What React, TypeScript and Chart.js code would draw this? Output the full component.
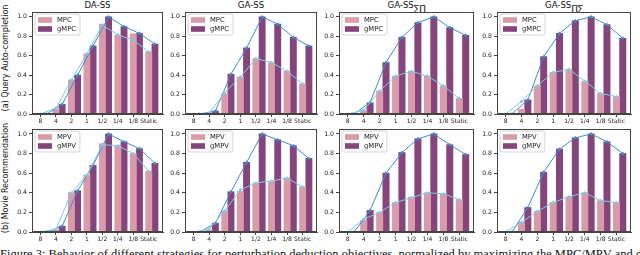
import React, { useEffect, useRef } from "react";
import { Chart, registerables } from "chart.js";

Chart.register(...registerables);

// ---------- data ----------
const CATEGORIES = ["8", "4", "2", "1", "1/2", "1/4", "1/8", "Static"];
const Y_TICKS = [0, 0.2, 0.4, 0.6, 0.8, 1.0];

// (a) Query Auto-completion
const QAC_DA_MPC = [0, 0.05, 0.35, 0.62, 0.925, 0.81, 0.825, 0.64];
const QAC_DA_GMPC = [0, 0.1, 0.4, 0.7, 1.0, 0.9, 0.83, 0.72];
const QAC_DA_MPC_LINE = [0, 0.06, 0.35, 0.62, 0.915, 0.815, 0.76, 0.64];
const QAC_DA_GMPC_LINE = [0, 0.1, 0.4, 0.7, 1.0, 0.9, 0.83, 0.72];

const QAC_GA_MPC = [0, 0.01, 0.205, 0.38, 0.57, 0.53, 0.44, 0.31];
const QAC_GA_GMPC = [0, 0.03, 0.41, 0.68, 1.0, 0.925, 0.79, 0.7];
const QAC_GA_MPC_LINE = [0, 0.01, 0.22, 0.38, 0.57, 0.53, 0.44, 0.31];
const QAC_GA_GMPC_LINE = [0, 0.03, 0.41, 0.68, 1.0, 0.925, 0.79, 0.7];

const QAC_SP_MPC = [0, 0.035, 0.235, 0.39, 0.44, 0.39, 0.29, 0.16];
const QAC_SP_GMPC = [0, 0.115, 0.53, 0.79, 0.94, 1.0, 0.89, 0.81];
const QAC_SP_MPC_LINE = [0, 0.04, 0.235, 0.39, 0.44, 0.39, 0.29, 0.16];
const QAC_SP_GMPC_LINE = [0, 0.12, 0.53, 0.79, 0.94, 1.0, 0.89, 0.81];

const QAC_PS_MPC = [0, 0.05, 0.29, 0.43, 0.455, 0.335, 0.215, 0.18];
const QAC_PS_GMPC = [0, 0.145, 0.59, 0.83, 0.96, 1.0, 0.92, 0.78];
const QAC_PS_MPC_LINE = [0, 0.13, 0.29, 0.43, 0.46, 0.34, 0.21, 0.18];
const QAC_PS_GMPC_LINE = [0, 0.145, 0.59, 0.83, 0.96, 1.0, 0.92, 0.78];

// (b) Movie Recommendation
const MR_DA_MPV = [0, 0.02, 0.4, 0.58, 0.9, 0.885, 0.8, 0.62];
const MR_DA_GMPV = [0, 0.06, 0.42, 0.68, 1.0, 0.92, 0.85, 0.7];
const MR_DA_MPV_LINE = [0, 0.03, 0.4, 0.58, 0.89, 0.88, 0.8, 0.62];
const MR_DA_GMPV_LINE = [0, 0.06, 0.42, 0.68, 1.0, 0.92, 0.85, 0.7];

const MR_GA_MPV = [0, 0.02, 0.215, 0.415, 0.5, 0.52, 0.55, 0.46];
const MR_GA_GMPV = [0, 0.09, 0.41, 0.71, 1.0, 0.94, 0.88, 0.75];
const MR_GA_MPV_LINE = [0, 0.03, 0.215, 0.43, 0.5, 0.52, 0.55, 0.46];
const MR_GA_GMPV_LINE = [0, 0.09, 0.41, 0.71, 1.0, 0.94, 0.88, 0.75];

const MR_SP_MPV = [0, 0.12, 0.2, 0.3, 0.355, 0.4, 0.39, 0.33];
const MR_SP_GMPV = [0, 0.22, 0.6, 0.81, 0.95, 1.0, 0.89, 0.79];
const MR_SP_MPV_LINE = [0, 0.13, 0.2, 0.3, 0.35, 0.4, 0.39, 0.33];
const MR_SP_GMPV_LINE = [0, 0.22, 0.6, 0.81, 0.95, 1.0, 0.89, 0.79];

const MR_PS_MPV = [0, 0.1, 0.21, 0.3, 0.36, 0.4, 0.32, 0.3];
const MR_PS_GMPV = [0, 0.25, 0.61, 0.845, 0.96, 1.0, 0.92, 0.8];
const MR_PS_MPV_LINE = [0, 0.1, 0.21, 0.3, 0.36, 0.4, 0.32, 0.3];
const MR_PS_GMPV_LINE = [0, 0.25, 0.61, 0.845, 0.96, 1.0, 0.92, 0.8];

// ---------- styles ----------
const PINK = "#d99aa9";
const PURPLE = "#86457a";
const LIGHT_BLUE = "#7fcbe8";
const DARK_BLUE = "#3a8fd2";
const FRAME = "#444444";
const TEXT = "#222222";
const FONT = "'DejaVu Sans', sans-serif";

const X_MIN = -0.55;
const X_MAX = 7.92;
const OFFSET_1 = 0;
const OFFSET_2 = 0.4;

type PanelProps = {
  left: number;
  top: number;
  width: number;
  height: number;
  bars1: number[];
  bars2: number[];
  line1: number[];
  line2: number[];
  label1: string;
  label2: string;
};

const Y_AXIS_W = 24;
const X_AXIS_H = 13;
const PAD_TOP = 6;
const PAD_RIGHT = 4;

function Panel(p: PanelProps) {
  const ref = useRef<HTMLCanvasElement | null>(null);
  useEffect(() => {
    if (!ref.current) return;
    const pts = (arr: number[], off: number) =>
      arr.map((v, i) => ({ x: i + off, y: v }));

    const framePlugin = {
      id: "frameAndLegend",
      afterDatasetsDraw(chart: any) {
        const { ctx, chartArea: a } = chart;
        ctx.save();
        const bx = a.left + 3;
        const by = a.top + 2;
        ctx.font = `6.8px ${FONT}`;
        const tw = Math.max(ctx.measureText(p.label1).width, ctx.measureText(p.label2).width);
        const bw = 3 + 14 + 5 + tw + 4;
        const bh = 21;
        ctx.beginPath();
        const r = 2;
        ctx.moveTo(bx + r, by);
        ctx.arcTo(bx + bw, by, bx + bw, by + bh, r);
        ctx.arcTo(bx + bw, by + bh, bx, by + bh, r);
        ctx.arcTo(bx, by + bh, bx, by, r);
        ctx.arcTo(bx, by, bx + bw, by, r);
        ctx.closePath();
        ctx.fillStyle = "rgba(255,255,255,0.85)";
        ctx.fill();
        ctx.strokeStyle = "#d4d4d4";
        ctx.lineWidth = 1;
        ctx.stroke();
        const entries: [string, string][] = [
          [p.label1, PINK],
          [p.label2, PURPLE],
        ];
        entries.forEach(([lab, col], k) => {
          const cy = by + 6 + k * 9;
          ctx.fillStyle = col;
          ctx.fillRect(bx + 3, cy - 2.8, 14, 5.6);
          ctx.fillStyle = TEXT;
          ctx.textBaseline = "middle";
          ctx.textAlign = "left";
          ctx.fillText(lab, bx + 3 + 14 + 5, cy + 0.5);
        });
        ctx.restore();
      },
      afterDraw(chart: any) {
        const { ctx, chartArea: a } = chart;
        ctx.save();
        ctx.strokeStyle = FRAME;
        ctx.lineWidth = 1;
        ctx.strokeRect(Math.round(a.left) + 0.5, Math.round(a.top) + 0.5, Math.round(a.right - a.left) - 1, Math.round(a.bottom - a.top) - 1);
        ctx.restore();
      },
    };

    const lineDs = (label: string, arr: number[], off: number, color: string) =>
      ({
        type: "line",
        label,
        data: pts(arr, off),
        borderColor: color,
        backgroundColor: color,
        borderWidth: 1,
        pointStyle: "rectRot",
        pointRadius: 1.8,
        pointBorderWidth: 0,
        order: 0,
      } as any);
    const barDs = (label: string, arr: number[], off: number, color: string) =>
      ({
        type: "bar",
        label,
        data: pts(arr, off),
        backgroundColor: color,
        grouped: false,
        categoryPercentage: 1,
        barPercentage: 1,
        order: 1,
      } as any);

    const chart = new Chart(ref.current, {
      type: "bar",
      data: {
        datasets: [
          lineDs(p.label1 + " line", p.line1, OFFSET_1, LIGHT_BLUE),
          lineDs(p.label2 + " line", p.line2, OFFSET_2, DARK_BLUE),
          barDs(p.label1, p.bars1, OFFSET_1, PINK),
          barDs(p.label2, p.bars2, OFFSET_2, PURPLE),
        ],
      },
      options: {
        animation: false,
        responsive: true,
        maintainAspectRatio: false,
        layout: { padding: { top: PAD_TOP, right: PAD_RIGHT, left: 0, bottom: 0 } },
        scales: {
          x: {
            type: "linear",
            bounds: "data",
            offset: false,
            min: X_MIN,
            max: X_MAX,
            afterBuildTicks: (ax: any) => {
              ax.ticks = CATEGORIES.map((_, i) => ({ value: i }));
            },
            afterFit: (s: any) => {
              s.height = X_AXIS_H;
            },
            ticks: {
              callback: (v: any) => CATEGORIES[v as number],
              autoSkip: false,
              maxRotation: 0,
              font: { family: FONT, size: 6 },
              color: TEXT,
              padding: 1,
            },
            grid: { drawOnChartArea: false, tickLength: 3, color: FRAME, offset: false },
            border: { color: FRAME },
          },
          y: {
            min: 0,
            max: 1.05,
            bounds: "data",
            afterBuildTicks: (ax: any) => {
              ax.ticks = Y_TICKS.map((v) => ({ value: v }));
            },
            afterFit: (s: any) => {
              s.width = Y_AXIS_W;
            },
            ticks: {
              callback: (v: any) => (v as number).toFixed(1),
              font: { family: FONT, size: 6.2 },
              color: TEXT,
              padding: 2,
            },
            grid: { drawOnChartArea: false, tickLength: 3, color: FRAME },
            border: { color: FRAME },
          },
        },
        plugins: {
          legend: { display: false },
          tooltip: { enabled: false },
        },
      } as any,
      plugins: [framePlugin],
    });
    return () => chart.destroy();
  }, []);

  return (
    <div
      style={{
        position: "absolute",
        left: p.left - Y_AXIS_W,
        top: p.top - PAD_TOP,
        width: p.width + Y_AXIS_W + PAD_RIGHT,
        height: p.height + PAD_TOP + X_AXIS_H,
      }}
    >
      <canvas ref={ref} />
    </div>
  );
}

const LEFTS = [32, 185, 339, 497];
const WIDTHS = [131, 132, 135, 134];
const ROW_TOPS = [12, 129];
const ROW_HEIGHTS = [102, 103];

export default function App() {
  const titleStyle = (i: number): React.CSSProperties => ({
    position: "absolute",
    left: LEFTS[i],
    width: WIDTHS[i],
    top: -1,
    textAlign: "center",
    fontFamily: FONT,
    fontSize: 8.6,
    color: "#111",
    lineHeight: "12px",
    whiteSpace: "nowrap",
  });
  const subStyle: React.CSSProperties = { fontSize: "0.95em", verticalAlign: "-3px", lineHeight: 0, fontFamily: FONT };
  const ylab = (cy: number): React.CSSProperties => ({
    position: "absolute",
    left: 5,
    top: cy,
    transform: "translate(-50%, -50%) rotate(-90deg)",
    fontFamily: FONT,
    fontSize: 8,
    color: "#111",
    whiteSpace: "nowrap",
  });
  return (
    <div style={{ position: "absolute", left: 0, top: 0, width: 640, height: 255, overflow: "hidden", background: "#fff" }}>
      <div style={titleStyle(0)}>DA-SS</div>
      <div style={titleStyle(1)}>GA-SS</div>
      <div style={titleStyle(2)}>
        GA-SS<span style={subStyle}>∑∏</span>
      </div>
      <div style={titleStyle(3)}>
        GA-SS<span style={subStyle}>∏∑</span>
      </div>
      <div style={ylab(58)}>(a) Query Auto-completion</div>
      <div style={ylab(178)}>(b) Movie Recommendation</div>

      <Panel left={LEFTS[0]} top={ROW_TOPS[0]} width={WIDTHS[0]} height={ROW_HEIGHTS[0]} bars1={QAC_DA_MPC} bars2={QAC_DA_GMPC} line1={QAC_DA_MPC_LINE} line2={QAC_DA_GMPC_LINE} label1="MPC" label2="gMPC" />
      <Panel left={LEFTS[1]} top={ROW_TOPS[0]} width={WIDTHS[1]} height={ROW_HEIGHTS[0]} bars1={QAC_GA_MPC} bars2={QAC_GA_GMPC} line1={QAC_GA_MPC_LINE} line2={QAC_GA_GMPC_LINE} label1="MPC" label2="gMPC" />
      <Panel left={LEFTS[2]} top={ROW_TOPS[0]} width={WIDTHS[2]} height={ROW_HEIGHTS[0]} bars1={QAC_SP_MPC} bars2={QAC_SP_GMPC} line1={QAC_SP_MPC_LINE} line2={QAC_SP_GMPC_LINE} label1="MPC" label2="gMPC" />
      <Panel left={LEFTS[3]} top={ROW_TOPS[0]} width={WIDTHS[3]} height={ROW_HEIGHTS[0]} bars1={QAC_PS_MPC} bars2={QAC_PS_GMPC} line1={QAC_PS_MPC_LINE} line2={QAC_PS_GMPC_LINE} label1="MPC" label2="gMPC" />

      <Panel left={LEFTS[0]} top={ROW_TOPS[1]} width={WIDTHS[0]} height={ROW_HEIGHTS[1]} bars1={MR_DA_MPV} bars2={MR_DA_GMPV} line1={MR_DA_MPV_LINE} line2={MR_DA_GMPV_LINE} label1="MPV" label2="gMPV" />
      <Panel left={LEFTS[1]} top={ROW_TOPS[1]} width={WIDTHS[1]} height={ROW_HEIGHTS[1]} bars1={MR_GA_MPV} bars2={MR_GA_GMPV} line1={MR_GA_MPV_LINE} line2={MR_GA_GMPV_LINE} label1="MPV" label2="gMPV" />
      <Panel left={LEFTS[2]} top={ROW_TOPS[1]} width={WIDTHS[2]} height={ROW_HEIGHTS[1]} bars1={MR_SP_MPV} bars2={MR_SP_GMPV} line1={MR_SP_MPV_LINE} line2={MR_SP_GMPV_LINE} label1="MPV" label2="gMPV" />
      <Panel left={LEFTS[3]} top={ROW_TOPS[1]} width={WIDTHS[3]} height={ROW_HEIGHTS[1]} bars1={MR_PS_MPV} bars2={MR_PS_GMPV} line1={MR_PS_MPV_LINE} line2={MR_PS_GMPV_LINE} label1="MPV" label2="gMPV" />

      <div
        style={{
          position: "absolute",
          left: 0,
          top: 247,
          fontFamily: "'Liberation Serif', 'DejaVu Serif', serif",
          fontSize: 12.5,
          color: "#111",
          whiteSpace: "nowrap",
        }}
      >
        Figure 3: Behavior of different strategies for perturbation deduction objectives, normalized by maximizing the MPC/MPV and gMPC/gMPV
      </div>
    </div>
  );
}
